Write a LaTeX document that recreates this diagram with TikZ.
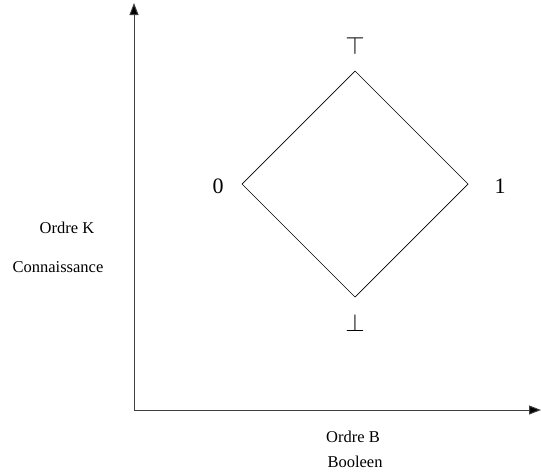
\documentclass[tikz,border=0pt]{standalone}
\usepackage{fontspec}
\setmainfont{Liberation Serif}
\usetikzlibrary{arrows.meta}
\begin{document}
\begin{tikzpicture}[x=1pt,y=-1pt,
  axis/.style={line width=1pt,draw=black!75,-{Triangle[length=12pt,width=9pt,fill=black]}},
  edge/.style={line width=0.7pt},
  lbl/.style={inner sep=0pt,font=\fontsize{16.5}{18}\selectfont},
  big/.style={inner sep=0pt,font=\fontsize{22}{24}\selectfont},
  sym/.style={inner sep=0pt,font=\fontsize{34}{36}\selectfont}]
\useasboundingbox (0,0) rectangle (541,474);
\coordinate (O) at (134,410);
\coordinate (Ytip) at (134,3);
\coordinate (Xtip) at (541,410);
\draw[axis] (O) -- (Ytip);
\draw[axis] (O) -- (Xtip);
\coordinate (T) at (355,71);
\coordinate (R) at (468,184);
\coordinate (B) at (355,297);
\coordinate (L) at (242,184);
\draw[edge] (T) -- (R) -- (B) -- (L) -- cycle;
\node[sym] (top) at (355,46) {$\top$};
\node[sym] (bot) at (355,323) {$\bot$};
\node[big] (zero) at (218,186) {0};
\node[big] (one) at (500,186) {1};
\node[lbl] (ok) at (67,228) {Ordre K};
\node[lbl] (conn) at (58,267) {Connaissance};
\node[lbl] (ob) at (353,437) {Ordre B};
\node[lbl] (bool) at (355,462) {Booleen};
\end{tikzpicture}
\end{document}
